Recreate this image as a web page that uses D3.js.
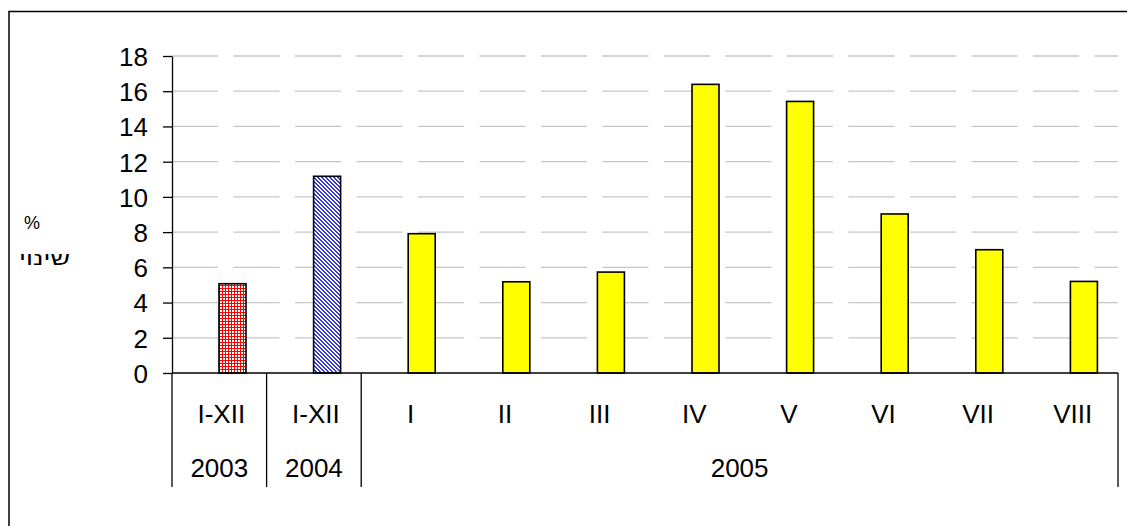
<!DOCTYPE html>
<html><head><meta charset="utf-8">
<script src="https://cdn.jsdelivr.net/npm/d3@7/dist/d3.min.js"></script>
<style>body{margin:0;background:#fff;}svg{display:block;font-family:"Liberation Sans",Arial,sans-serif;}</style>
</head><body><svg id="c" width="1127" height="526"></svg>
<script>
const categories = ["I-XII","I-XII","I","II","III","IV","V","VI","VII","VIII"];
const values = [5.07, 11.17, 7.91, 5.18, 5.73, 16.39, 15.42, 9.03, 7.0, 5.2];
const fills = ["red-grid","blue-check","yellow","yellow","yellow","yellow","yellow","yellow","yellow","yellow"];
const yearLabels = ["2003","2004","2005"];
const yearSpans = [1,1,8];
const yTicks = [0,2,4,6,8,10,12,14,16,18];

const svg = d3.select("#c");
const defs = svg.append("defs");
const pr = defs.append("pattern").attr("id","red-grid").attr("patternUnits","userSpaceOnUse").attr("width",3).attr("height",3);
pr.append("rect").attr("width",3).attr("height",3).attr("fill","#fff");
pr.append("rect").attr("width",3).attr("height",1).attr("fill","#ff0000");
pr.append("rect").attr("width",1).attr("height",3).attr("fill","#ff0000");
const pb = defs.append("pattern").attr("id","blue-check").attr("patternUnits","userSpaceOnUse").attr("width",4).attr("height",4);
pb.append("rect").attr("width",4).attr("height",4).attr("fill","#fff");
[[0,0],[1,0],[1,1],[2,1],[2,2],[3,2],[3,3],[0,3]].forEach(([a,b])=>pb.append("rect").attr("x",a).attr("y",b).attr("width",1).attr("height",1).attr("fill","#3333ff"));

const fillOf = f => f==="yellow" ? "#ffff00" : `url(#${f})`;
const FS = 26;

svg.append("rect").attr("x",9).attr("y",11.5).attr("width",1130).attr("height",530)
  .attr("fill","none").attr("stroke","#000").attr("stroke-width",1.5);

const x0 = 172, x1 = 1118, yTop = 56, yBase = 373, yBottom = 487;
const x = d3.scaleBand().domain(d3.range(categories.length)).range([x0,x1]).paddingInner(0).paddingOuter(0);
const y = d3.scaleLinear().domain([0,18]).range([yBase,yTop]);

svg.append("g").selectAll("line").data(yTicks.filter(t=>t>0)).join("line")
  .attr("x1",x0).attr("x2",x1).attr("y1",d=>y(d)).attr("y2",d=>y(d))
  .attr("stroke","#c6c6c6").attr("stroke-width",1.3).attr("stroke-dasharray","46,15.5");

const ya = svg.append("g").attr("transform",`translate(${x0},0)`)
  .call(d3.axisLeft(y).tickValues(yTicks).tickSize(9).tickPadding(15).tickSizeOuter(0));
ya.attr("font-size",FS).attr("font-family","Liberation Sans, Arial, sans-serif");
ya.select(".domain").attr("stroke","#000").attr("stroke-width",1.3);
ya.selectAll(".tick line").attr("stroke","#000").attr("stroke-width",1.3);
ya.selectAll(".tick text").attr("fill","#000").attr("dy","0.36em");

svg.append("text").attr("x",32).attr("y",229).attr("text-anchor","middle").attr("font-size",18).text("%");
svg.append("text").attr("x",19).attr("y",265).attr("font-size",19)
  .attr("textLength",51).attr("lengthAdjust","spacingAndGlyphs").text("שינוי");

const bw = 27;
svg.append("g").selectAll("rect").data(values).join("rect")
  .attr("x",(d,i)=>x(i)+x.bandwidth()/2-0.3)
  .attr("y",d=>y(d)).attr("width",bw).attr("height",d=>y(0)-y(d))
  .attr("fill",(d,i)=>fillOf(fills[i])).attr("stroke","#000").attr("stroke-width",1.6);

svg.append("line").attr("x1",x0).attr("x2",x1).attr("y1",yBase).attr("y2",yBase).attr("stroke","#000").attr("stroke-width",1.3);

let acc = 0; const seps = [0];
yearSpans.forEach(s=>{acc+=s; seps.push(acc);});
svg.append("g").selectAll("line").data(seps).join("line")
  .attr("x1",d=>d<categories.length?x(d):x1).attr("x2",d=>d<categories.length?x(d):x1)
  .attr("y1",yBase).attr("y2",yBottom).attr("stroke","#000").attr("stroke-width",1.3);

svg.append("g").selectAll("text").data(categories).join("text")
  .attr("x",(d,i)=>x(i)+x.bandwidth()/2+2).attr("y",423)
  .attr("text-anchor","middle").attr("font-size",FS).text(d=>d);

svg.append("g").selectAll("text").data(yearLabels).join("text")
  .attr("x",(d,i)=>{const a=seps[i], b=seps[i+1]; return (x(a) + (b<categories.length?x(b):x1))/2;})
  .attr("y",477).attr("text-anchor","middle").attr("font-size",FS).text(d=>d);
</script></body></html>
